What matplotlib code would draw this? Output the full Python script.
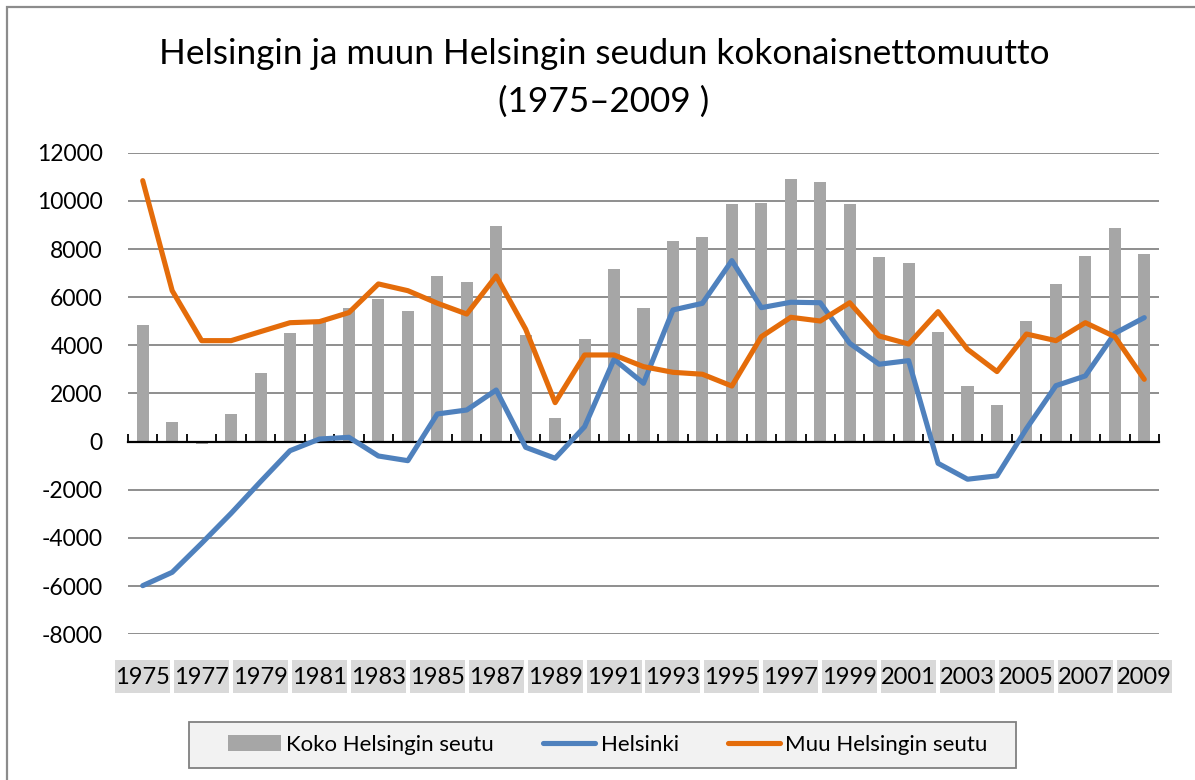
import matplotlib
matplotlib.use('Agg')
import matplotlib.pyplot as plt
import matplotlib.transforms as mtransforms
from matplotlib.patches import Rectangle
from matplotlib.lines import Line2D

# ---------------- data ----------------
years = list(range(1975, 2010))
koko = [4850, 830, -100, 1150, 2840, 4500, 4985, 5540, 5910, 5440, 6880, 6630, 8970,
        4430, 970, 4250, 7160, 5565, 8335, 8515, 9860, 9925, 10910, 10785, 9860, 7660,
        7410, 4540, 2310, 1510, 5010, 6535, 7700, 8860, 7810]
helsinki = [-5980, -5425, -4220, -2975, -1660, -375, 110, 180, -595, -790, 1150, 1315, 2145,
            -235, -690, 620, 3420, 2425, 5470, 5745, 7520, 5565, 5790, 5770, 4085, 3215,
            3365, -900, -1560, -1420, 540, 2325, 2730, 4500, 5150]
muu = [10840, 6270, 4195, 4195, 4570, 4940, 4985, 5360, 6550, 6270, 5750, 5300, 6880,
       4670, 1620, 3600, 3600, 3115, 2880, 2800, 2310, 4360, 5165, 5010, 5770, 4390,
       4055, 5400, 3835, 2910, 4470, 4195, 4940, 4360, 2590]
yticks = [-8000, -6000, -4000, -2000, 0, 2000, 4000, 6000, 8000, 10000, 12000]
title1 = "Helsingin ja muun Helsingin seudun kokonaisnettomuutto"
title2 = "(1975\u20132009 )"
legend_labels = ["Koko Helsingin seutu", "Helsinki", "Muu Helsingin seutu"]

# ---------------- style ----------------
plt.rcParams['font.family'] = ['Lato', 'DejaVu Sans']
W, H = 1195, 780
fig = plt.figure(figsize=(W / 100, H / 100), dpi=100)
fig.patch.set_facecolor('white')

# outer chart frame (top and left edges visible)
fig.patches.append(Rectangle((7 / W, -0.2), 1.5, (1 - 7 / H) + 0.2, transform=fig.transFigure,
                             facecolor='none', edgecolor='#8c8c8c', lw=1.6, clip_on=False))

left, right = 128 / W, 1159 / W
top, bottom = 1 - 152.7 / H, 1 - 634.3 / H
ax = fig.add_axes([left, bottom, right - left, top - bottom])

x = list(range(len(years)))
ax.bar(x, koko, width=0.41, color='#a6a6a6', zorder=2)
ax.plot(x, helsinki, color='#4f81bd', lw=3.7, zorder=4, solid_joinstyle='round', solid_capstyle='round')
ax.plot(x, muu, color='#e46c0a', lw=3.7, zorder=5, solid_joinstyle='round', solid_capstyle='round')

ax.set_xlim(-0.5, len(years) - 0.5)
ax.set_ylim(-8000, 12000)
ax.set_yticks(yticks)
ax.set_yticklabels([str(v) for v in yticks], fontsize=16.5)
ax.tick_params(axis='y', length=0, pad=18)
ax.yaxis.grid(True, color='#868686', lw=1.3)
ax.set_axisbelow(True)

for s in ['top', 'right', 'left']:
    ax.spines[s].set_visible(False)
ax.spines['bottom'].set_position(('data', 0))
ax.spines['bottom'].set_color('black')
ax.spines['bottom'].set_linewidth(1.6)
ax.spines['bottom'].set_zorder(3)
ax.set_xticks([i - 0.5 for i in range(len(years) + 1)])
ax.tick_params(axis='x', direction='in', length=6, width=1.3, color='black', labelbottom=False)

# category labels with grey boxes
trans = mtransforms.blended_transform_factory(ax.transData, ax.transAxes)
axh = 634.3 - 152.7
box_y0 = (634.3 - 693.3) / axh
box_h = (693.3 - 660) / axh
half_w = 27.5 / ((1159 - 128) / len(years))
for i, yr in enumerate(years):
    if i % 2 == 0:
        ax.add_patch(Rectangle((i - half_w, box_y0), 2 * half_w, box_h, transform=trans,
                               facecolor='#d9d9d9', edgecolor='none', clip_on=False, zorder=1))
        ax.text(i, (634.3 - 677) / axh, str(yr), transform=trans, ha='center', va='center',
                fontsize=17, color='black', zorder=2)

# title
fig.text(604 / W, 1 - 64 / H, title1, ha='center', va='baseline', fontsize=25.3)
fig.text(604 / W, 1 - 112 / H, title2, ha='center', va='baseline', fontsize=25.3)

# legend
fig.patches.append(Rectangle((189 / W, 1 - 768 / H), 827 / W, 46 / H, transform=fig.transFigure,
                             facecolor='#f2f2f2', edgecolor='#808080', lw=1.3))
handles = [Rectangle((0, 0), 1, 1, facecolor='#a6a6a6', edgecolor='none'),
           Line2D([0], [0], color='#4f81bd', lw=3.7, solid_capstyle='round'),
           Line2D([0], [0], color='#e46c0a', lw=3.7, solid_capstyle='round')]
fig.legend(handles, legend_labels, loc='center', bbox_to_anchor=(608 / W, 1 - 745 / H),
           ncol=3, frameon=False, fontsize=16, handlelength=2.35, handleheight=0.75,
           handletextpad=0.25, columnspacing=2.2)

fig.savefig('out.png', dpi=100)
